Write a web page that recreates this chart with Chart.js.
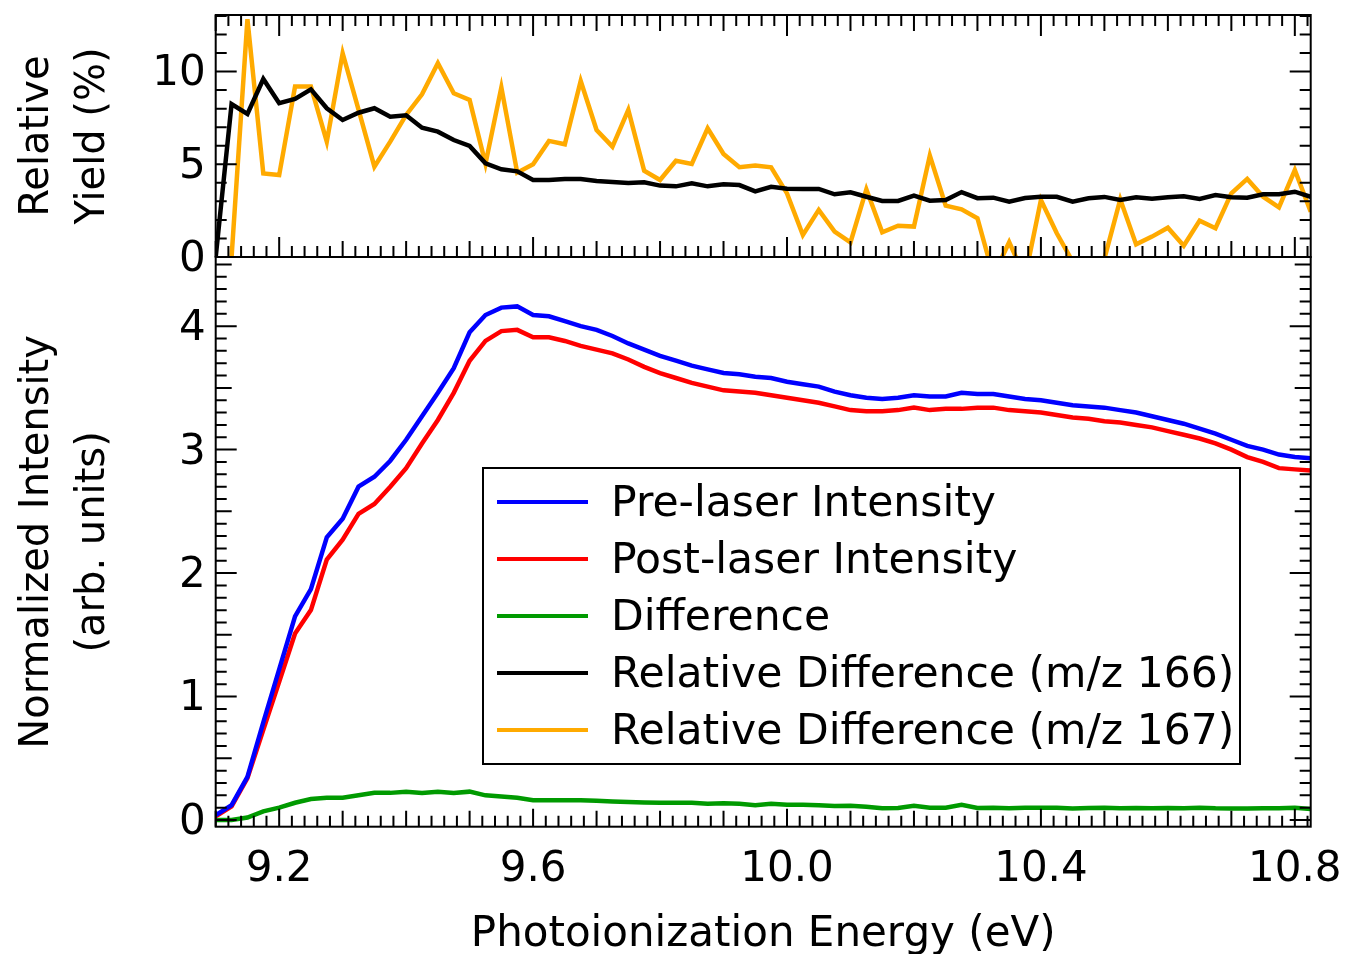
<!DOCTYPE html>
<html>
<head>
<meta charset="utf-8">
<title>Photoionization Energy</title>
<script src="https://cdn.jsdelivr.net/npm/chart.js@4.4.1/dist/chart.umd.min.js"></script>
<style>
  html, body { margin: 0; padding: 0; background: #fff; }
  #wrap { width: 1347px; height: 954px; }
</style>
</head>
<body>
<div id="wrap"><canvas id="chart" width="1347" height="954"></canvas></div>
<script>
// ===== DATA =====
const energy = [
    9.100, 9.125, 9.150, 9.175, 9.200, 9.225, 9.250, 9.275, 9.300, 9.325,
    9.350, 9.375, 9.400, 9.425, 9.450, 9.475, 9.500, 9.525, 9.550, 9.575,
    9.600, 9.625, 9.650, 9.675, 9.700, 9.725, 9.750, 9.775, 9.800, 9.825,
    9.850, 9.875, 9.900, 9.925, 9.950, 9.975, 10.000, 10.025, 10.050, 10.075,
    10.100, 10.125, 10.150, 10.175, 10.200, 10.225, 10.250, 10.275, 10.300, 10.325,
    10.350, 10.375, 10.400, 10.425, 10.450, 10.475, 10.500, 10.525, 10.550, 10.575,
    10.600, 10.625, 10.650, 10.675, 10.700, 10.725, 10.750, 10.775, 10.800, 10.825
];

const preLaser = [
    0.04, 0.12, 0.35, 0.79, 1.22, 1.65, 1.87, 2.29, 2.44, 2.70,
    2.78, 2.91, 3.08, 3.27, 3.46, 3.66, 3.95, 4.09, 4.15, 4.16,
    4.09, 4.08, 4.04, 4.00, 3.97, 3.92, 3.86, 3.81, 3.76, 3.72,
    3.68, 3.65, 3.62, 3.61, 3.59, 3.58, 3.55, 3.53, 3.51, 3.47,
    3.44, 3.42, 3.41, 3.42, 3.44, 3.43, 3.43, 3.46, 3.45, 3.45,
    3.43, 3.41, 3.40, 3.38, 3.36, 3.35, 3.34, 3.32, 3.30, 3.27,
    3.24, 3.21, 3.17, 3.13, 3.08, 3.03, 3.00, 2.96, 2.94, 2.93
];

const postLaser = [
    0.03, 0.11, 0.34, 0.73, 1.12, 1.51, 1.70, 2.11, 2.27, 2.48,
    2.56, 2.70, 2.85, 3.05, 3.24, 3.46, 3.72, 3.88, 3.96, 3.97,
    3.91, 3.91, 3.88, 3.84, 3.81, 3.78, 3.73, 3.67, 3.62, 3.58,
    3.54, 3.51, 3.48, 3.47, 3.46, 3.44, 3.42, 3.40, 3.38, 3.35,
    3.32, 3.31, 3.31, 3.32, 3.34, 3.32, 3.33, 3.33, 3.34, 3.34,
    3.32, 3.31, 3.30, 3.28, 3.26, 3.25, 3.23, 3.22, 3.20, 3.18,
    3.15, 3.12, 3.09, 3.05, 3.00, 2.94, 2.90, 2.85, 2.84, 2.83
];

const difference = [
    0.00, 0.00, 0.02, 0.07, 0.10, 0.14, 0.17, 0.18, 0.18, 0.20,
    0.22, 0.22, 0.23, 0.22, 0.23, 0.22, 0.23, 0.20, 0.19, 0.18,
    0.16, 0.16, 0.16, 0.16, 0.156, 0.15, 0.146, 0.143, 0.14, 0.14,
    0.14, 0.132, 0.135, 0.132, 0.119, 0.132, 0.124, 0.124, 0.12, 0.113,
    0.116, 0.108, 0.095, 0.097, 0.116, 0.10, 0.10, 0.124, 0.097, 0.10,
    0.095, 0.10, 0.10, 0.10, 0.093, 0.097, 0.10, 0.095, 0.097, 0.095,
    0.097, 0.095, 0.10, 0.095, 0.093, 0.093, 0.095, 0.095, 0.10, 0.09
];

const relDiff166 = [
    0.00, 8.25, 7.71, 9.60, 8.29, 8.52, 9.04, 8.02, 7.39, 7.78,
    8.02, 7.57, 7.64, 6.97, 6.76, 6.31, 5.99, 5.05, 4.73, 4.62,
    4.15, 4.15, 4.20, 4.20, 4.10, 4.05, 3.99, 4.03, 3.85, 3.81,
    3.97, 3.81, 3.92, 3.88, 3.54, 3.79, 3.68, 3.67, 3.67, 3.38,
    3.49, 3.25, 3.02, 3.02, 3.31, 3.04, 3.07, 3.50, 3.17, 3.20,
    2.98, 3.18, 3.25, 3.25, 2.98, 3.17, 3.24, 3.07, 3.22, 3.14,
    3.22, 3.28, 3.13, 3.34, 3.22, 3.20, 3.38, 3.38, 3.52, 3.25
];

const relDiff167 = [
    null, 0.00, 12.82, 4.51, 4.42, 9.19, 9.19, 6.22, 10.99, 7.95,
    4.87, 6.22, 7.66, 8.77, 10.45, 8.83, 8.47, 5.02, 9.15, 4.55,
    5.00, 6.26, 6.08, 9.49, 6.85, 5.95, 7.93, 4.65, 4.15, 5.19,
    5.02, 6.94, 5.56, 4.84, 4.93, 4.84, 3.43, 1.19, 2.54, 1.37,
    0.79, 3.65, 1.33, 1.69, 1.64, 5.47, 2.77, 2.57, 2.09, -1.00,
    0.80, -1.10, 3.07, 1.28, -0.25, -1.50, -0.10, 3.11, 0.68, 1.10,
    1.58, 0.61, 1.96, 1.55, 3.43, 4.21, 3.25, 2.68, 4.69, 2.44
];

const energyTicks = [9.2, 9.6, 10.0, 10.4, 10.8];
const yieldTicks = [0, 5, 10];
const intensityTicks = [0, 1, 2, 3, 4];

// ===== STYLE =====
const FONT = '"DejaVu Sans", Verdana, sans-serif';

function toPoints(values) {
    return energy.map((e, i) => ({ x: e, y: values[i] }));
}

function fixTicks(values) {
    return function(scale) {
        scale.ticks = values.map(v => ({ value: v }));
    };
}

// Draws one row of inward tick marks along an edge of a panel
function drawTickRow(ctx, list, horizontal, edge, dir) {
    ctx.beginPath();
    list.forEach(t => {
        if (horizontal) {
            ctx.moveTo(t.pos, edge);
            ctx.lineTo(t.pos, edge + dir * t.len);
        } else {
            ctx.moveTo(edge, t.pos);
            ctx.lineTo(edge + dir * t.len, t.pos);
        }
    });
    ctx.stroke();
}

const panelPlugin = {
    id: 'panelFrames',
    // keep each series inside its own panel
    beforeDatasetDraw(chart, args) {
        const ys = chart.scales[args.meta.yAxisID];
        const area = chart.chartArea;
        chart.ctx.save();
        chart.ctx.beginPath();
        chart.ctx.rect(area.left, ys.top, area.right - area.left, ys.bottom - ys.top);
        chart.ctx.clip();
    },
    afterDatasetDraw(chart) {
        chart.ctx.restore();
    },
    afterDatasetsDraw(chart) {
        const ctx = chart.ctx;
        const area = chart.chartArea;
        const xs = chart.scales.x;
        const top = chart.scales.yTop;
        const bot = chart.scales.yBot;

        ctx.save();
        ctx.strokeStyle = '#000';
        ctx.lineWidth = 2;
        ctx.lineCap = 'butt';

        // x ticks: labelled every 0.4, medium every 0.1, minor every 0.02
        const xTicks = [];
        for (let k = Math.ceil(xs.min / 0.02 - 1e-6); k * 0.02 <= xs.max + 1e-6; k++) {
            const len = k % 20 === 0 ? 20 : (k % 5 === 0 ? 16 : 11);
            xTicks.push({ pos: xs.getPixelForValue(k * 0.02), len: len });
        }
        drawTickRow(ctx, xTicks.map(t => ({ pos: t.pos, len: t.len + (t.len === 20 ? 1 : 0) })), true, top.top, 1);
        drawTickRow(ctx, xTicks, true, top.bottom, -1);
        drawTickRow(ctx, xTicks.map(t => ({ pos: t.pos, len: t.len === 20 ? 18 : t.len })), true, bot.bottom, -1);

        // top panel y ticks: major every 5, minor every 1
        const topTicks = [];
        for (let v = 0; v <= top.max + 1e-6; v++) {
            topTicks.push({ pos: top.getPixelForValue(v), len: v % 5 === 0 ? 21 : 11 });
        }
        drawTickRow(ctx, topTicks, false, area.left, 1);
        drawTickRow(ctx, topTicks, false, area.right, -1);

        // bottom panel y ticks: major every 1, medium every 0.5, minor every 0.1
        const botTicks = [];
        for (let k = 0; k * 0.1 <= bot.max + 1e-6; k++) {
            const len = k % 10 === 0 ? 21 : (k % 5 === 0 ? 16 : 11);
            botTicks.push({ pos: bot.getPixelForValue(k * 0.1), len: len });
        }
        drawTickRow(ctx, botTicks, false, area.left, 1);
        drawTickRow(ctx, botTicks, false, area.right, -1);

        // panel frames
        ctx.strokeRect(area.left, top.top, area.right - area.left, top.bottom - top.top);
        ctx.strokeRect(area.left, bot.top, area.right - area.left, bot.bottom - bot.top);
        ctx.restore();
    },
    afterDraw(chart) {
        // legend box inside the lower panel
        const ctx = chart.ctx;
        const box = { left: 483, top: 468, right: 1240, bottom: 764 };
        ctx.save();
        ctx.fillStyle = '#fff';
        ctx.fillRect(box.left, box.top, box.right - box.left, box.bottom - box.top);
        ctx.strokeStyle = '#000';
        ctx.lineWidth = 2;
        ctx.strokeRect(box.left, box.top, box.right - box.left, box.bottom - box.top);

        ctx.font = '42.5px ' + FONT;
        ctx.textBaseline = 'middle';
        ctx.textAlign = 'left';
        chart.data.datasets.forEach((ds, i) => {
            const y = 502 + i * 57;
            ctx.strokeStyle = ds.borderColor;
            ctx.lineWidth = 4;
            ctx.beginPath();
            ctx.moveTo(497, y);
            ctx.lineTo(588, y);
            ctx.stroke();
            ctx.fillStyle = '#000';
            ctx.fillText(ds.label, 611, y + 3);
        });
        ctx.restore();
    }
};

document.addEventListener('DOMContentLoaded', function() {
    const ctx = document.getElementById('chart');

    new Chart(ctx, {
        type: 'line',
        data: {
            datasets: [
                { label: 'Pre-laser Intensity', data: toPoints(preLaser), borderColor: '#0000ff', yAxisID: 'yBot' },
                { label: 'Post-laser Intensity', data: toPoints(postLaser), borderColor: '#ff0000', yAxisID: 'yBot' },
                { label: 'Difference', data: toPoints(difference), borderColor: '#009a00', yAxisID: 'yBot' },
                { label: 'Relative Difference (m/z 166)', data: toPoints(relDiff166), borderColor: '#000000', yAxisID: 'yTop' },
                { label: 'Relative Difference (m/z 167)', data: toPoints(relDiff167), borderColor: '#ffaa00', yAxisID: 'yTop' }
            ]
        },
        options: {
            responsive: false,
            devicePixelRatio: 1,
            animation: false,
            layout: { padding: { top: 15, right: 36.3, bottom: 0, left: 0 } },
            elements: {
                line: { borderWidth: 4.5, tension: 0, fill: false },
                point: { radius: 0, hoverRadius: 0 }
            },
            plugins: {
                legend: { display: false },
                tooltip: { enabled: false }
            },
            scales: {
                x: {
                    type: 'linear',
                    position: 'bottom',
                    min: 9.1,
                    max: 10.825,
                    grid: { display: false, drawTicks: false },
                    border: { display: false },
                    afterBuildTicks: fixTicks(energyTicks),
                    afterFit: function(s) {
                        s.height = 127.3;
                        s.paddingLeft = 0;
                        s.paddingRight = 0;
                    },
                    ticks: {
                        padding: 18,
                        color: '#000',
                        maxRotation: 0,
                        autoSkip: false,
                        font: { family: FONT, size: 42 },
                        callback: v => v.toFixed(1)
                    },
                    title: {
                        display: true,
                        text: 'Photoionization Energy (eV)',
                        color: '#000',
                        font: { family: FONT, size: 42, lineHeight: 0.9 },
                        padding: { top: 0, bottom: 0 }
                    }
                },
                yBot: {
                    type: 'linear',
                    position: 'left',
                    stack: 'panels',
                    stackWeight: 569.7,
                    weight: 1,
                    min: -0.054,
                    max: 4.56,
                    grid: { display: false, drawTicks: false },
                    border: { display: false },
                    afterBuildTicks: fixTicks(intensityTicks),
                    afterFit: function(s) {
                        s.width = 215.7;
                        s.paddingTop = 0;
                        s.paddingBottom = 0;
                    },
                    ticks: {
                        padding: 10,
                        labelOffset: 3,
                        color: '#000',
                        font: { family: FONT, size: 42 }
                    },
                    title: {
                        display: true,
                        text: ['Normalized Intensity', '(arb. units)'],
                        color: '#000',
                        font: { family: FONT, size: 40, lineHeight: 1.4 },
                        padding: { top: 10, bottom: 0 }
                    }
                },
                yTop: {
                    type: 'linear',
                    position: 'left',
                    stack: 'panels',
                    stackWeight: 242,
                    weight: 2,
                    min: 0,
                    max: 13.05,
                    grid: { display: false, drawTicks: false },
                    border: { display: false },
                    afterBuildTicks: fixTicks(yieldTicks),
                    afterFit: function(s) {
                        s.width = 215.7;
                        s.paddingTop = 0;
                        s.paddingBottom = 0;
                    },
                    ticks: {
                        padding: 10,
                        labelOffset: 3,
                        color: '#000',
                        font: { family: FONT, size: 42 }
                    },
                    title: {
                        display: true,
                        text: ['Relative', 'Yield (%)'],
                        color: '#000',
                        font: { family: FONT, size: 40, lineHeight: 1.4 },
                        padding: { top: 10, bottom: 0 }
                    }
                }
            }
        },
        plugins: [panelPlugin]
    });
});
</script>
</body>
</html>
